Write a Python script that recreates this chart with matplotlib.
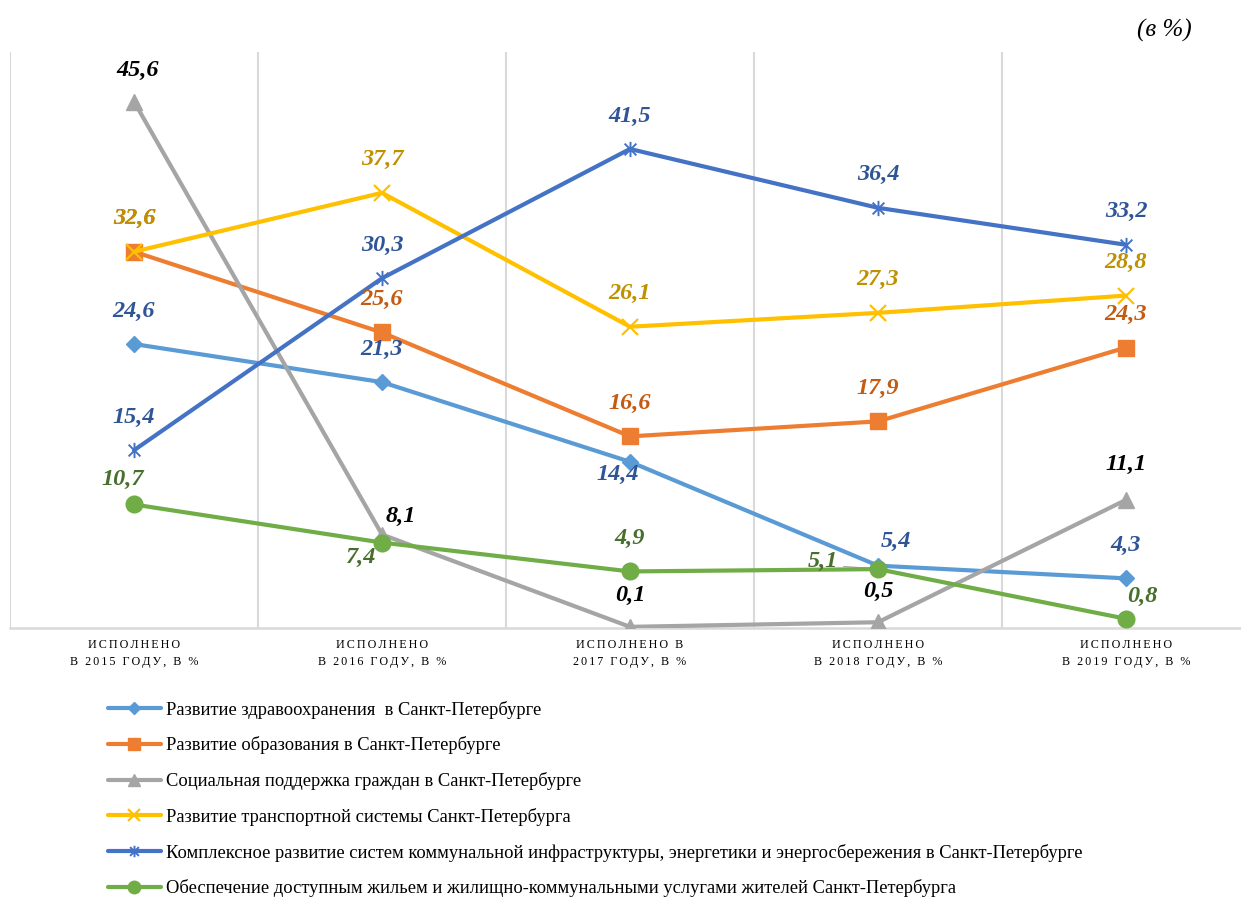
import matplotlib
matplotlib.use("Agg")
import matplotlib.pyplot as plt
from matplotlib.path import Path
import numpy as np

categories = ["ИСПОЛНЕНО\nВ 2015 ГОДУ, В %", "ИСПОЛНЕНО\nВ 2016 ГОДУ, В %",
              "ИСПОЛНЕНО В\n2017 ГОДУ, В %", "ИСПОЛНЕНО\nВ 2018 ГОДУ, В %",
              "ИСПОЛНЕНО\nВ 2019 ГОДУ, В %"]

names = ["Развитие здравоохранения  в Санкт-Петербурге",
         "Развитие образования в Санкт-Петербурге",
         "Социальная поддержка граждан в Санкт-Петербурге",
         "Развитие транспортной системы Санкт-Петербурга",
         "Комплексное развитие систем коммунальной инфраструктуры, энергетики и энергосбережения в Санкт-Петербурге",
         "Обеспечение доступным жильем и жилищно-коммунальными услугами жителей Санкт-Петербурга"]

health = [24.6, 21.3, 14.4, 5.4, 4.3]
education = [32.6, 25.6, 16.6, 17.9, 24.3]
social = [45.6, 8.1, 0.1, 0.5, 11.1]
transport = [32.6, 37.7, 26.1, 27.3, 28.8]
communal = [15.4, 30.3, 41.5, 36.4, 33.2]
housing = [10.7, 7.4, 4.9, 5.1, 0.8]

series = [health, education, social, transport, communal, housing]
line_colors = ["#5B9BD5", "#ED7D31", "#A5A5A5", "#FFC000", "#4472C4", "#70AD47"]
label_colors = ["#2F5597", "#C55A11", "#000000", "#BF9000", "#2F5597", "#476F2D"]

star = Path([(-1, -1), (1, 1), (-1, 1), (1, -1), (0, -1.3), (0, 1.3)],
            [Path.MOVETO, Path.LINETO, Path.MOVETO, Path.LINETO, Path.MOVETO, Path.LINETO])
markers = ["D", "s", "^", "x", star, "o"]
msizes = [8, 11, 12, 11, 11, 12]
mews = [1, 1, 1, 1.6, 1.4, 1]

# label offsets in pixels (dx, dy) relative to point
default_off = (0, 33)
offsets = {
    (0, 2): (-12, -13), (0, 3): (18, 24),
    (2, 1): (19, 18), (2, 0): (4, 31), (2, 2): (0, 31), (2, 3): (0, 31), (2, 4): (0, 35),
    (5, 0): (-11, 25), (5, 1): (-21, -15), (5, 3): (-55, 8), (5, 4): (16, 22),
}

W, H = 1241, 897
fig = plt.figure(figsize=(W / 100, H / 100), dpi=100)
ax = fig.add_axes([10 / W, 1 - 628 / H, 1240 / W, 576 / H])
x = np.arange(len(categories))

for i, (vals, c, m, ms, mew) in enumerate(zip(series, line_colors, markers, msizes, mews)):
    ax.plot(x, vals, color=c, lw=3, marker=m, ms=ms, mfc=c, mec=c, mew=mew,
            label=names[i], zorder=3 + i * 0.1, solid_capstyle="round")

for i, vals in enumerate(series):
    for j, v in enumerate(vals):
        dx, dy = offsets.get((i, j), default_off)
        ax.annotate(f"{v:.1f}".replace(".", ","), (x[j], v), xytext=(dx * 0.72, dy * 0.72),
                    textcoords="offset points", ha="center", va="center",
                    fontsize=17.5, fontweight="bold", fontstyle="italic",
                    family="Liberation Serif", color=label_colors[i], zorder=10)

# leader line for 5,1
ax.annotate("", xy=(x[3] - 0.015, 5.15), xytext=(x[3] - 0.15, 5.35),
            arrowprops=dict(arrowstyle="-", color="#A5A5A5", lw=0.8), zorder=2)

ax.set_xlim(-0.5, 4.5)
ax.set_ylim(0, 49.9)
ax.set_yticks([])
ax.set_xticks(x)
sp = "\u2006"
spaced = ["\n".join(sp.join(line) for line in c.split("\n")) for c in categories]
ax.set_xticklabels(spaced, fontsize=8.7, family=["Liberation Serif", "DejaVu Serif"],
                   linespacing=1.55)
ax.tick_params(axis="x", length=0, pad=8)
ax.set_xticks(np.arange(-0.5, 5.0, 1.0), minor=True)
ax.tick_params(axis="x", which="minor", length=0)
ax.grid(True, which="minor", axis="x", color="#D9D9D9", lw=1.5)
ax.grid(False, which="major")
for s in ["top", "right", "left"]:
    ax.spines[s].set_visible(False)
ax.spines["bottom"].set_color("#D9D9D9")
ax.spines["bottom"].set_linewidth(1.8)

fig.text(1192 / W, 1 - 30 / H, "(в %)", ha="right", va="center", fontsize=18,
         fontstyle="italic", family="Liberation Serif")

leg = fig.legend(loc="upper left", bbox_to_anchor=(91 / W, 1 - 684 / H), frameon=False,
                 prop={"family": "Liberation Serif", "size": 13.3},
                 handlelength=2.9, handletextpad=0.25, labelspacing=0.96, markerscale=0.75)

fig.savefig("out.png", dpi=100)
